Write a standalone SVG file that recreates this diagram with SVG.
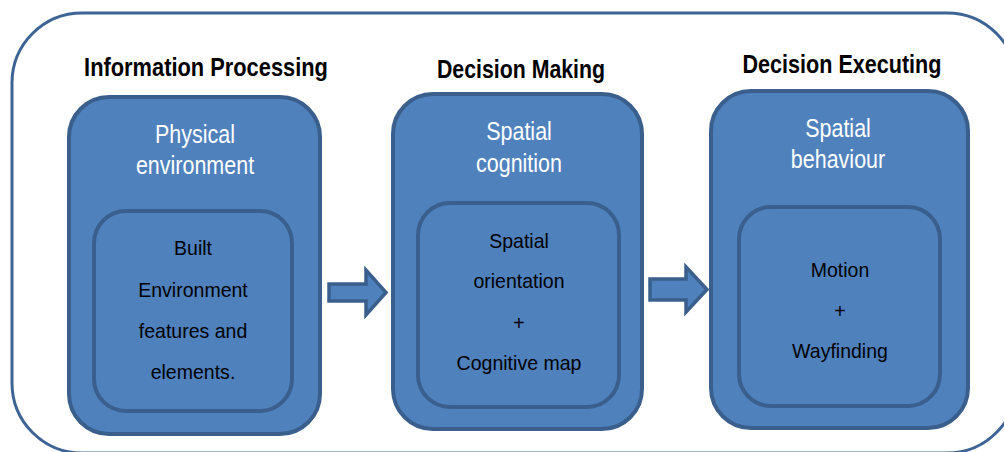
<svg xmlns="http://www.w3.org/2000/svg" width="1004" height="452" viewBox="0 0 1004 452">
  <style>
    .frame { fill: #ffffff; stroke: #3d6494; stroke-width: 3; }
    .box { fill: #4f81bd; stroke: #3a5f8c; stroke-width: 4; }
    .title { font-family: "Liberation Sans", Arial, sans-serif; font-weight: bold; font-size: 26px; fill: #000000; text-anchor: middle; }
    .head { font-family: "Liberation Sans", Arial, sans-serif; font-size: 25px; fill: #ffffff; text-anchor: middle; }
    .body { font-family: "Liberation Sans", Arial, sans-serif; font-size: 21px; fill: #000000; text-anchor: middle; }
    .arrow { fill: #4f81bd; stroke: #3a5f8c; stroke-width: 3.5; stroke-linejoin: miter; }
  </style>

  <!-- outer rounded frame, running off the right and bottom edges -->
  <rect class="frame" x="12" y="13" width="1005" height="440" rx="70" ry="70"/>

  <!-- stage titles -->
  <g id="titles">
    <text class="title" transform="translate(206,76) scale(0.84,1)">Information Processing</text>
    <text class="title" transform="translate(521,78) scale(0.82,1)">Decision Making</text>
    <text class="title" transform="translate(842,73) scale(0.83,1)">Decision Executing</text>
  </g>

  <!-- stage 1 -->
  <g id="physical-environment">
    <rect class="box" x="69" y="97" width="251" height="337" rx="40" ry="40"/>
    <text class="head" transform="translate(195,143) scale(0.86,1)">Physical</text>
    <text class="head" transform="translate(195,174) scale(0.86,1)">environment</text>
  </g>
  <g id="built-environment">
    <rect class="box" x="94" y="211" width="198" height="200" rx="32" ry="32"/>
    <text class="body" transform="translate(193,255) scale(0.93,1)">Built</text>
    <text class="body" transform="translate(193,297) scale(0.93,1)">Environment</text>
    <text class="body" transform="translate(193,338) scale(0.93,1)">features and</text>
    <text class="body" transform="translate(193,379) scale(0.93,1)">elements.</text>
  </g>

  <!-- stage 2 -->
  <g id="spatial-cognition">
    <rect class="box" x="393" y="94" width="249" height="335" rx="40" ry="40"/>
    <text class="head" transform="translate(519,140) scale(0.86,1)">Spatial</text>
    <text class="head" transform="translate(519,172) scale(0.86,1)">cognition</text>
  </g>
  <g id="spatial-orientation">
    <rect class="box" x="418" y="203" width="201" height="204" rx="32" ry="32"/>
    <text class="body" transform="translate(519,248) scale(0.93,1)">Spatial</text>
    <text class="body" transform="translate(519,288) scale(0.93,1)">orientation</text>
    <text class="body" transform="translate(519,330) scale(0.93,1)">+</text>
    <text class="body" transform="translate(519,370) scale(0.93,1)">Cognitive map</text>
  </g>

  <!-- stage 3 -->
  <g id="spatial-behaviour">
    <rect class="box" x="711" y="91" width="257" height="337" rx="40" ry="40"/>
    <text class="head" transform="translate(838,137) scale(0.86,1)">Spatial</text>
    <text class="head" transform="translate(838,168) scale(0.86,1)">behaviour</text>
  </g>
  <g id="motion-wayfinding">
    <rect class="box" x="739" y="207" width="201" height="199" rx="32" ry="32"/>
    <text class="body" transform="translate(840,277) scale(0.93,1)">Motion</text>
    <text class="body" transform="translate(840,318) scale(0.93,1)">+</text>
    <text class="body" transform="translate(840,358) scale(0.93,1)">Wayfinding</text>
  </g>

  <!-- block arrows between stages -->
  <g id="connectors">
    <path class="arrow" d="M329,284 H366 V270 L386,292.5 L366,315 V301 H329 Z"/>
    <path class="arrow" d="M650,279 H686 V267 L707,289.5 L686,312 V300 H650 Z"/>
  </g>
</svg>
